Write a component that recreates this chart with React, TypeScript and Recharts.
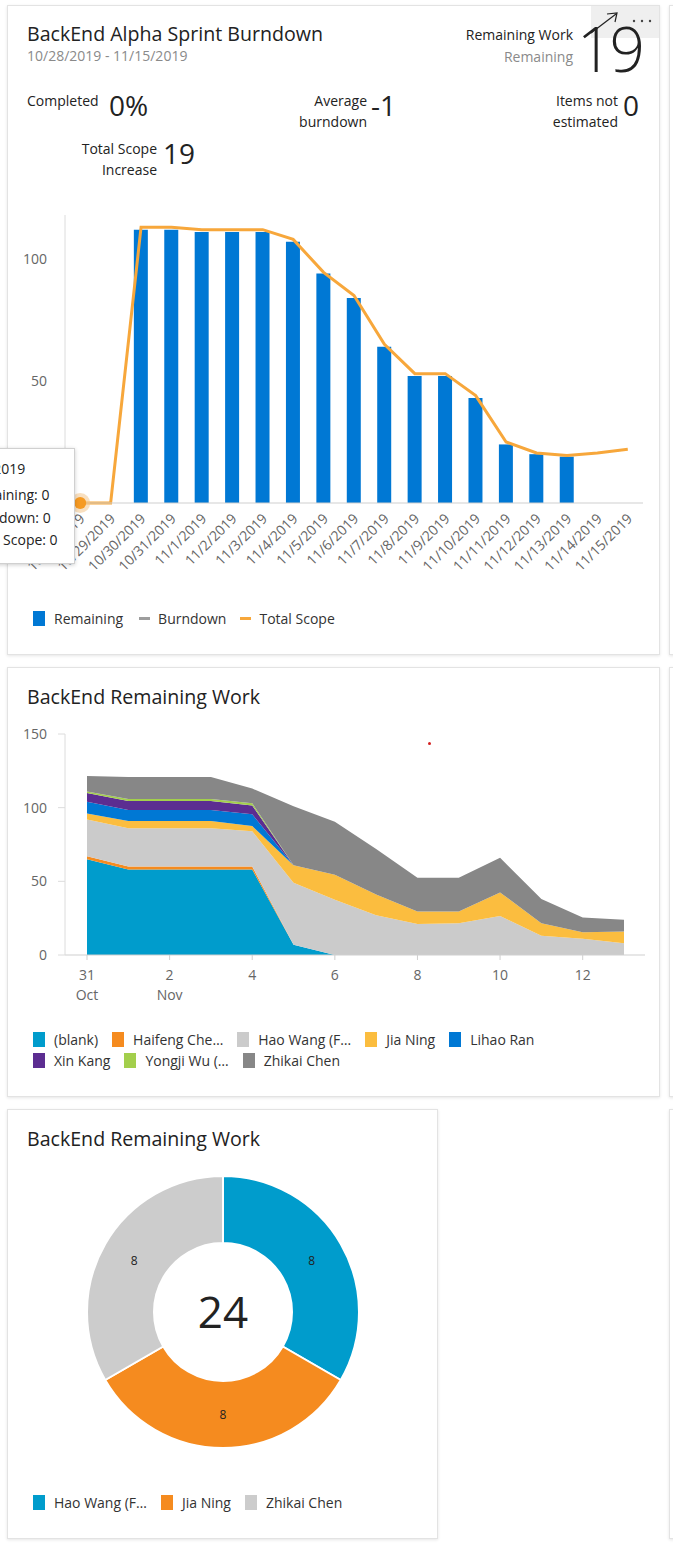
import React from "react";
import { ComposedChart, Bar, Line, XAxis, YAxis, AreaChart, Area, PieChart, Pie, Cell } from "recharts";

// Sprint burndown (first card)
const sprintDates = [
  "10/28/2019", "10/29/2019", "10/30/2019", "10/31/2019", "11/1/2019", "11/2/2019", "11/3/2019",
  "11/4/2019", "11/5/2019", "11/6/2019", "11/7/2019", "11/8/2019", "11/9/2019", "11/10/2019",
  "11/11/2019", "11/12/2019", "11/13/2019", "11/14/2019", "11/15/2019",
];
const remaining = [0, 0, 112, 112, 111, 111, 111, 107, 94, 84, 64, 52, 52, 43, 24, 20, 19, null, null];
const totalScope = [0, 0, 113, 113, 112, 112, 112, 108, 94.5, 85, 65, 53, 53, 44, 25, 20.5, 19.5, 20.5, 22];
const burndownTicks = [0, 50, 100];

// Remaining work by assignee (second card)
const workDays = ["31", "1", "2", "3", "4", "5", "6", "7", "8", "9", "10", "11", "12", "13"];
const workMonths = ["Oct", "", "Nov", "", "", "", "", "", "", "", "", "", "", ""];
const blank = [65, 58, 58, 58, 58, 7, 0, 0, 0, 0, 0, 0, 0, 0];
const haifeng = [2, 2, 2, 2, 2, 0, 0, 0, 0, 0, 0, 0, 0, 0];
const haoWang = [25, 26, 26, 26, 24, 42, 37.5, 27, 21, 21.5, 26.5, 13, 11, 8];
const jiaNing = [4, 5, 5, 5, 3.5, 12, 17, 14, 8.5, 8, 16, 8.5, 4.5, 8];
const lihaoRan = [8, 7.5, 7.5, 7.5, 8, 0, 0, 0, 0, 0, 0, 0, 0, 0];
const xinKang = [6, 6, 6, 6, 6, 0, 0, 0, 0, 0, 0, 0, 0, 0];
const yongjiWu = [1, 1.3, 1.3, 1.3, 1.5, 0, 0, 0, 0, 0, 0, 0, 0, 0];
const zhikaiChen = [10.5, 15, 15, 15, 10, 40, 36, 31, 23, 23, 23.5, 16.5, 10, 8];
const workTicks = [0, 50, 100, 150];

const assignees = [
  { key: "blank", name: "(blank)", color: "#009ccc", values: blank },
  { key: "haifeng", name: "Haifeng Che…", color: "#f58b1f", values: haifeng },
  { key: "hao", name: "Hao Wang (F…", color: "#cbcbcb", values: haoWang },
  { key: "jia", name: "Jia Ning", color: "#fbbd3f", values: jiaNing },
  { key: "lihao", name: "Lihao Ran", color: "#0078d4", values: lihaoRan },
  { key: "xin", name: "Xin Kang", color: "#5c2d91", values: xinKang },
  { key: "yongji", name: "Yongji Wu (…", color: "#a3cf4c", values: yongjiWu },
  { key: "zhikai", name: "Zhikai Chen", color: "#878787", values: zhikaiChen },
];

// Donut (third card)
const donutNames = ["Hao Wang (F…", "Jia Ning", "Zhikai Chen"];
const donutValues = [8, 8, 8];
const donutColors = ["#009ccc", "#f58b1f", "#cccccc"];

const BAR_BLUE = "#0078d4";
const SCOPE_ORANGE = "#f7a73b";
const FONT = "'Segoe UI', 'Open Sans', 'Noto Sans', sans-serif";

const burndownData = sprintDates.map((d, i) => ({ date: d, remaining: remaining[i], scope: totalScope[i] }));
const workData = workDays.map((d, i) => {
  const row: Record<string, any> = { day: d };
  assignees.forEach((a) => (row[a.key] = a.values[i]));
  return row;
});
const donutData = donutNames.map((n, i) => ({ name: n, value: donutValues[i] }));
const donutTotal = donutValues.reduce((a, b) => a + b, 0);

const Txt = ({ x, right, cy, size = 14, color = "#222", weight = 400, children, spacing }: any) => {
  const lh = Math.round(size * 1.3);
  const style: React.CSSProperties = {
    position: "absolute",
    top: cy - lh / 2,
    lineHeight: `${lh}px`,
    fontSize: size,
    color,
    fontWeight: weight,
    whiteSpace: "nowrap",
    letterSpacing: spacing,
  };
  if (right !== undefined) {
    style.right = 673 - right;
    style.textAlign = "right";
  } else style.left = x;
  return <div style={style}>{children}</div>;
};

const Card = ({ x, y, w, h }: any) => (
  <div
    style={{
      position: "absolute",
      left: x,
      top: y,
      width: w,
      height: h,
      border: "1px solid #e3e3e3",
      boxShadow: "0 1px 3px rgba(0,0,0,0.10)",
      background: "#fff",
      boxSizing: "border-box",
    }}
  />
);

const DateTick = ({ x, y, payload }: any) => (
  <g transform={`translate(${x + 2},${y})`}>
    <text x={0} y={0} dy="0.35em" textAnchor="end" transform="rotate(-45)" fill="#666" fontSize={14} fontFamily={FONT}>
      {payload.value}
    </text>
  </g>
);

const DayTick = ({ x, y, payload }: any) => {
  const i = workDays.indexOf(payload.value);
  return (
    <g transform={`translate(${x},${y})`}>
      <text x={0} y={0} dy={18} textAnchor="middle" fill="#666" fontSize={14} fontFamily={FONT}>
        {payload.value}
      </text>
      {workMonths[i] ? (
        <text x={0} y={0} dy={38} textAnchor="middle" fill="#666" fontSize={14} fontFamily={FONT}>
          {workMonths[i]}
        </text>
      ) : null}
    </g>
  );
};

const ActiveDot = (props: any) => {
  const { cx, cy, index } = props;
  if (index !== 0) return <g key={`d-${index}`} />;
  return (
    <g key={`d-${index}`}>
      <circle cx={cx} cy={cy} r={10} fill="#f2c48a" fillOpacity={0.55} />
      <circle cx={cx} cy={cy} r={6} fill="#f59a23" />
    </g>
  );
};

const sliceLabel = ({ cx, cy, midAngle, innerRadius, outerRadius, value }: any) => {
  const r = (innerRadius + outerRadius) / 2;
  const rad = Math.PI / 180;
  return (
    <text
      x={cx + r * Math.cos(-midAngle * rad)}
      y={cy + r * Math.sin(-midAngle * rad)}
      textAnchor="middle"
      dominantBaseline="central"
      fontSize={12}
      fill="#222"
      fontFamily={FONT}
    >
      {value}
    </text>
  );
};

const Swatch = ({ color, label, gap = 14 }: any) => (
  <div style={{ display: "flex", alignItems: "center", marginRight: gap, height: 21 }}>
    <div style={{ width: 12, height: 15, background: color, marginRight: 9 }} />
    <span style={{ fontSize: 14, color: "#333" }}>{label}</span>
  </div>
);

const LineSwatch = ({ color, label, gap = 14 }: any) => (
  <div style={{ display: "flex", alignItems: "center", marginRight: gap, height: 21 }}>
    <div style={{ width: 11, height: 3, background: color, marginRight: 8 }} />
    <span style={{ fontSize: 14, color: "#333" }}>{label}</span>
  </div>
);

export default function App() {
  return (
    <div
      style={{
        position: "absolute",
        left: 0,
        top: 0,
        width: 673,
        height: 1547,
        overflow: "hidden",
        background: "#fff",
        fontFamily: FONT,
        color: "#222",
      }}
    >
      <Card x={7} y={5} w={653} h={650} />
      <Card x={7} y={667} w={653} h={430} />
      <Card x={7} y={1109} w={431} h={430} />
      <Card x={669} y={5} w={100} h={650} />
      <Card x={669} y={667} w={100} h={430} />
      <Card x={669} y={1109} w={100} h={430} />

      {/* Burndown header */}
      <Txt x={27} cy={33} size={19.6}>BackEnd Alpha Sprint Burndown</Txt>
      <Txt x={27} cy={56} size={14} color="#8a8a8a">10/28/2019 - 11/15/2019</Txt>
      <Txt right={573} cy={35} size={14}>Remaining Work</Txt>
      <Txt right={573} cy={57} size={14} color="#8a8a8a">Remaining</Txt>
      <div style={{ position: "absolute", left: 591, top: 6, width: 68, height: 32, background: "#efefef" }} />
      <Txt x={577} cy={48} size={62} weight={300} spacing={-3}>19</Txt>
      <svg style={{ position: "absolute", left: 0, top: 0 }} width={673} height={50}>
        <line x1={591} y1={33} x2={616} y2={14} stroke="#222" strokeWidth={1.2} />
        <polyline points="607,14 617,13 615,22" fill="none" stroke="#222" strokeWidth={1.2} />
        <circle cx={634} cy={21} r={1.2} fill="#444" />
        <circle cx={642} cy={21} r={1.2} fill="#444" />
        <circle cx={650} cy={21} r={1.2} fill="#444" />
      </svg>

      <Txt x={27} cy={101} size={14}>Completed</Txt>
      <Txt x={109} cy={105} size={28}>0%</Txt>
      <Txt right={367} cy={101} size={14}>Average</Txt>
      <Txt right={367} cy={122} size={14}>burndown</Txt>
      <Txt x={371} cy={105} size={28}>-1</Txt>
      <Txt right={618} cy={101} size={14}>Items not</Txt>
      <Txt right={618} cy={122} size={14}>estimated</Txt>
      <Txt x={623} cy={105} size={28}>0</Txt>
      <Txt right={157} cy={149} size={14}>Total Scope</Txt>
      <Txt right={157} cy={170} size={14}>Increase</Txt>
      <Txt x={163} cy={153} size={28}>19</Txt>

      <div style={{ position: "absolute", left: 0, top: 200 }}>
        <ComposedChart width={660} height={380} data={burndownData} margin={{ top: 15, right: 17, left: 15, bottom: 17 }}>
          <XAxis
            dataKey="date"
            interval={0}
            height={60}
            tick={<DateTick />}
            tickLine={false}
            tickMargin={7}
            axisLine={{ stroke: "#cfcfcf" }}
          />
          <YAxis
            domain={[0, 118]}
            ticks={burndownTicks}
            width={50}
            tickLine={false}
            tickMargin={12}
            axisLine={{ stroke: "#dcdcdc" }}
            tick={{ fill: "#666", fontSize: 14, fontFamily: FONT }}
          />
          <Bar dataKey="remaining" fill={BAR_BLUE} barSize={14} isAnimationActive={false} />
          <Line
            dataKey="scope"
            type="linear"
            stroke={SCOPE_ORANGE}
            strokeWidth={3}
            dot={<ActiveDot />}
            isAnimationActive={false}
          />
        </ComposedChart>
      </div>

      {/* hovering tooltip, cut by the left edge */}
      <div
        style={{
          position: "absolute",
          left: -70,
          top: 448,
          width: 143,
          height: 114,
          background: "#fff",
          border: "1px solid #d0d0d0",
          boxShadow: "0 1px 4px rgba(0,0,0,0.2)",
          fontSize: 14,
          color: "#222",
        }}
      >
        <Txt x={20} cy={20}>10/28/2019</Txt>
        <Txt x={34} cy={46}>Remaining: 0</Txt>
        <Txt x={36} cy={69}>Burndown: 0</Txt>
        <Txt x={36} cy={91}>Total Scope: 0</Txt>
      </div>

      <div style={{ position: "absolute", left: 33, top: 608, display: "flex" }}>
        <Swatch color={BAR_BLUE} label="Remaining" gap={16} />
        <LineSwatch color="#9d9d9d" label="Burndown" gap={14} />
        <LineSwatch color={SCOPE_ORANGE} label="Total Scope" />
      </div>

      {/* Remaining work stacked area */}
      <Txt x={27} cy={696} size={19.6}>BackEnd Remaining Work</Txt>
      <div style={{ position: "absolute", left: 428, top: 742, width: 3, height: 3, background: "#d42020", borderRadius: 2 }} />
      <div style={{ position: "absolute", left: 0, top: 720 }}>
        <AreaChart width={660} height={300} data={workData} margin={{ top: 14, right: 15, left: 15, bottom: 5 }}>
          <XAxis
            dataKey="day"
            interval={1}
            height={60}
            padding={{ left: 22, right: 21 }}
            tick={<DayTick />}
            tickSize={5}
            tickLine={{ stroke: "#cfcfcf" }}
            axisLine={{ stroke: "#cfcfcf" }}
          />
          <YAxis
            domain={[0, 150]}
            ticks={workTicks}
            width={50}
            tickSize={7}
            tickMargin={11}
            tickLine={{ stroke: "#dcdcdc" }}
            axisLine={{ stroke: "#dcdcdc" }}
            tick={{ fill: "#666", fontSize: 14, fontFamily: FONT }}
          />
          {assignees.map((a) => (
            <Area
              key={a.key}
              dataKey={a.key}
              name={a.name}
              stackId="w"
              type="linear"
              fill={a.color}
              fillOpacity={1}
              stroke="none"
              isAnimationActive={false}
            />
          ))}
        </AreaChart>
      </div>
      <div style={{ position: "absolute", left: 33, top: 1029, width: 580, display: "flex", flexWrap: "wrap" }}>
        {assignees.map((a) => (
          <Swatch key={a.key} color={a.color} label={a.name} gap={14} />
        ))}
      </div>

      {/* Donut */}
      <Txt x={27} cy={1138} size={19.6}>BackEnd Remaining Work</Txt>
      <div style={{ position: "absolute", left: 0, top: 1160 }}>
        <PieChart width={446} height={310}>
          <Pie
            data={donutData}
            dataKey="value"
            nameKey="name"
            cx={218}
            cy={147}
            innerRadius={69}
            outerRadius={136}
            startAngle={90}
            endAngle={-270}
            stroke="#fff"
            strokeWidth={2}
            label={sliceLabel}
            labelLine={false}
            isAnimationActive={false}
          >
            {donutData.map((d, i) => (
              <Cell key={d.name} fill={donutColors[i]} />
            ))}
          </Pie>
        </PieChart>
      </div>
      <div style={{ position: "absolute", left: 173, width: 100, top: 1283, textAlign: "center", fontSize: 44, lineHeight: "56px" }}>
        {donutTotal}
      </div>
      <div style={{ position: "absolute", left: 33, top: 1492, display: "flex" }}>
        {donutData.map((d, i) => (
          <Swatch key={d.name} color={donutColors[i]} label={d.name} gap={14} />
        ))}
      </div>
    </div>
  );
}
